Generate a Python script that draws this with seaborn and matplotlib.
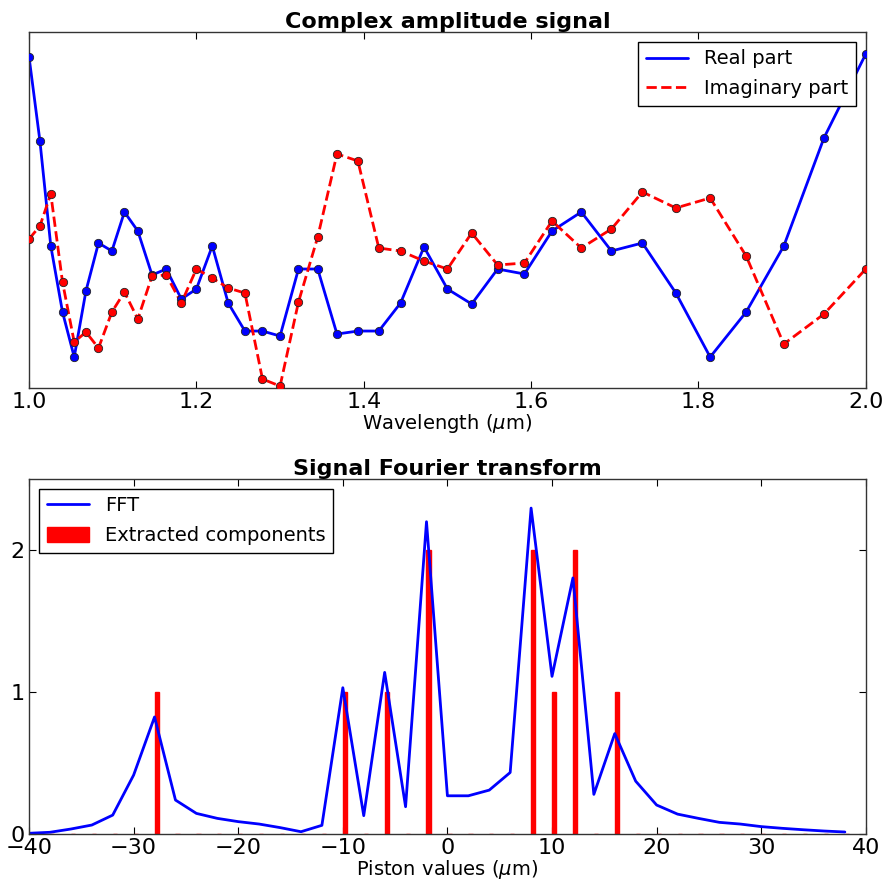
import numpy as np
import pandas as pd
import matplotlib
matplotlib.use('Agg')
import matplotlib.pyplot as plt
import seaborn as sns

# top panel: complex amplitude sampled on a wavelength grid
wavelength = [1.000, 1.013, 1.026, 1.040, 1.054, 1.068, 1.083, 1.099, 1.114, 1.130,
              1.147, 1.164, 1.182, 1.200, 1.219, 1.238, 1.258, 1.279, 1.300, 1.322,
              1.345, 1.368, 1.393, 1.418, 1.444, 1.472, 1.500, 1.529, 1.560, 1.592,
              1.625, 1.660, 1.696, 1.733, 1.773, 1.814, 1.857, 1.902, 1.950, 2.000]
real_part = [1.53, 0.69, -0.36, -1.02, -1.47, -0.81, -0.33, -0.41, -0.02, -0.21,
             -0.65, -0.59, -0.89, -0.79, -0.36, -0.93, -1.21, -1.21, -1.26, -0.59,
             -0.59, -1.24, -1.21, -1.21, -0.93, -0.37, -0.79, -0.94, -0.59, -0.64,
             -0.21, -0.02, -0.41, -0.33, -0.83, -1.47, -1.02, -0.36, 0.72, 1.56]
imag_part = [-0.29, -0.16, 0.16, -0.72, -1.32, -1.22, -1.38, -1.02, -0.82, -1.09,
             -0.66, -0.65, -0.93, -0.59, -0.68, -0.78, -0.83, -1.69, -1.76, -0.92,
             -0.27, 0.56, 0.49, -0.38, -0.41, -0.51, -0.59, -0.23, -0.55, -0.53,
             -0.11, -0.38, -0.19, 0.18, 0.02, 0.12, -0.46, -1.34, -1.04, -0.59]

# bottom panel: FFT modulus and extracted components
piston = [-40, -38, -36, -34, -32, -30, -28, -26, -24, -22,
          -20, -18, -16, -14, -12, -10, -8, -6, -4, -2,
          0, 2, 4, 6, 8, 10, 12, 14, 16, 18,
          20, 22, 24, 26, 28, 30, 32, 34, 36, 38]
fft_mod = [0.005, 0.012, 0.035, 0.063, 0.133, 0.415, 0.824, 0.239, 0.145, 0.11,
           0.087, 0.07, 0.045, 0.016, 0.061, 1.03, 0.129, 1.138, 0.192, 2.199,
           0.269, 0.269, 0.309, 0.433, 2.295, 1.11, 1.803, 0.279, 0.707, 0.372,
           0.204, 0.14, 0.11, 0.082, 0.07, 0.052, 0.04, 0.03, 0.021, 0.014]
components = [0, 0, 0, 0, 0, 0, 1, 0, 0, 0,
              0, 0, 0, 0, 0, 1, 0, 1, 0, 2,
              0, 0, 0, 0, 2, 1, 2, 0, 1, 0,
              0, 0, 0, 0, 0, 0, 0, 0, 0, 0]

df_sig = pd.DataFrame({'wl': wavelength, 're': real_part, 'im': imag_part})
df_fft = pd.DataFrame({'p': piston, 'fft': fft_mod, 'comp': components})

sns.set_style('ticks')
plt.rcParams['font.family'] = ['DejaVu Sans']
plt.rcParams['xtick.direction'] = 'in'
plt.rcParams['ytick.direction'] = 'in'
plt.rcParams['xtick.top'] = True
plt.rcParams['ytick.right'] = True
plt.rcParams['axes.edgecolor'] = '#333333'
plt.rcParams['axes.linewidth'] = 1.0
plt.rcParams['text.color'] = 'black'
plt.rcParams['axes.labelcolor'] = 'black'
plt.rcParams['xtick.color'] = 'black'
plt.rcParams['ytick.color'] = 'black'

fig = plt.figure(figsize=(8.88, 8.86), dpi=100)
ax1 = fig.add_axes([0.0327, 0.562, 0.9423, 0.402])
ax2 = fig.add_axes([0.0327, 0.0587, 0.9423, 0.4007])

# --- complex amplitude
sns.lineplot(data=df_sig, x='wl', y='re', ax=ax1, color='blue', lw=2, label='Real part')
sns.lineplot(data=df_sig, x='wl', y='im', ax=ax1, color='red', lw=2, ls='--', label='Imaginary part')
sns.scatterplot(data=df_sig, x='wl', y='re', ax=ax1, color='blue', s=36,
                edgecolor='#222222', linewidth=0.6, zorder=3, legend=False)
sns.scatterplot(data=df_sig, x='wl', y='im', ax=ax1, color='red', s=36,
                edgecolor='#222222', linewidth=0.6, zorder=3, legend=False)
ax1.set_xlim(1.0, 2.0)
ax1.set_ylim(-1.78, 1.78)
ax1.set_xticks([1.0, 1.2, 1.4, 1.6, 1.8, 2.0])
ax1.set_yticks([])
ax1.tick_params(axis='x', labelsize=16, length=5, pad=3)
ax1.set_xlabel(r'Wavelength ($\mu$m)', fontsize=14, labelpad=0)
ax1.set_ylabel('')
ax1.set_title('Complex amplitude signal', fontsize=16, fontweight='bold', pad=3)
leg1 = ax1.legend(loc='upper right', fontsize=14, fancybox=False, framealpha=1,
                  borderaxespad=0.5, handlelength=2.2, labelspacing=0.55)
leg1.get_frame().set_edgecolor('black')

# --- Fourier transform
sns.lineplot(data=df_fft, x='p', y='fft', ax=ax2, color='blue', lw=2, label='FFT')
ax2.bar(df_fft['p'], df_fft['comp'], width=0.4, align='edge', color='red',
        edgecolor='red', linewidth=1, label='Extracted components', zorder=1)
ax2.set_xlim(-40, 40)
ax2.set_ylim(0, 2.5)
ax2.set_xticks([-40, -30, -20, -10, 0, 10, 20, 30, 40])
ax2.set_yticks([0, 1, 2])
ax2.tick_params(labelsize=16, length=5, pad=3)
ax2.set_xlabel(r'Piston values ($\mu$m)', fontsize=14, labelpad=0)
ax2.set_ylabel('')
ax2.set_title('Signal Fourier transform', fontsize=16, fontweight='bold', pad=3)
leg2 = ax2.legend(loc='upper left', fontsize=14, fancybox=False, framealpha=1,
                  borderaxespad=0.5, handlelength=2.2, handleheight=0.8,
                  labelspacing=0.55)
leg2.get_frame().set_edgecolor('black')

fig.savefig('out.png', dpi=100)
